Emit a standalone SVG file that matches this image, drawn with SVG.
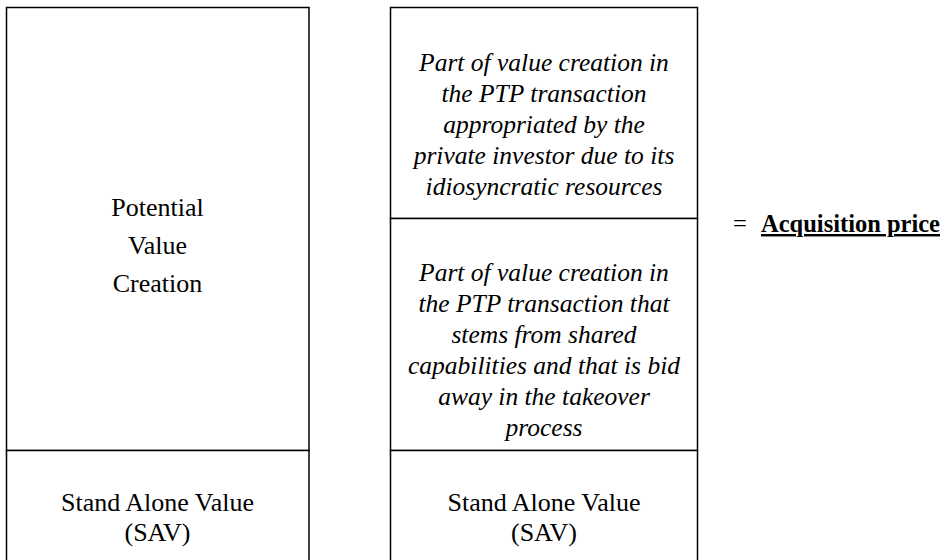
<svg xmlns="http://www.w3.org/2000/svg" width="948" height="560" viewBox="0 0 948 560">
<style>
.box{fill:#fff;stroke:#000;stroke-width:1.5}
text{font-family:"Liberation Serif","Times New Roman",serif;fill:#000;text-anchor:middle}
.n{font-size:26px}
.i{font-size:25.5px;font-style:italic}
.b{font-size:24.5px;text-anchor:start}
</style>
<rect width="948" height="560" fill="#fff"/>
<g id="left-potential">
<rect class="box" x="6.5" y="7.5" width="302.5" height="443"/>
<text class="n" x="157.5" y="216">Potential</text>
<text class="n" x="157.5" y="254">Value</text>
<text class="n" x="157.5" y="292">Creation</text>
</g>
<g id="left-sav">
<rect class="box" x="6.5" y="450.5" width="302.5" height="115"/>
<text class="n" x="157.5" y="511">Stand Alone Value</text>
<text class="n" x="157.5" y="541">(SAV)</text>
</g>
<g id="right-appropriated">
<rect class="box" x="390.5" y="7.5" width="307" height="211"/>
<text class="i" x="544" y="71">Part of value creation in</text>
<text class="i" x="544" y="102">the PTP transaction</text>
<text class="i" x="544" y="133">appropriated by the</text>
<text class="i" x="544" y="164">private investor due to its</text>
<text class="i" x="544" y="195">idiosyncratic resources</text>
</g>
<g id="right-bidaway">
<rect class="box" x="390.5" y="218.5" width="307" height="232"/>
<text class="i" x="544" y="281">Part of value creation in</text>
<text class="i" x="544" y="312">the PTP transaction that</text>
<text class="i" x="544" y="343">stems from shared</text>
<text class="i" x="544" y="374">capabilities and that is bid</text>
<text class="i" x="544" y="405">away in the takeover</text>
<text class="i" x="544" y="436">process</text>
</g>
<g id="right-sav">
<rect class="box" x="390.5" y="450.5" width="307" height="115"/>
<text class="n" x="544" y="511">Stand Alone Value</text>
<text class="n" x="544" y="541">(SAV)</text>
</g>
<g id="acquisition-price">
<text class="b" x="733" y="232">=<tspan x="761" font-weight="bold" text-decoration="underline">Acquisition price</tspan></text>
</g>
<g id="connectors"></g>
</svg>
